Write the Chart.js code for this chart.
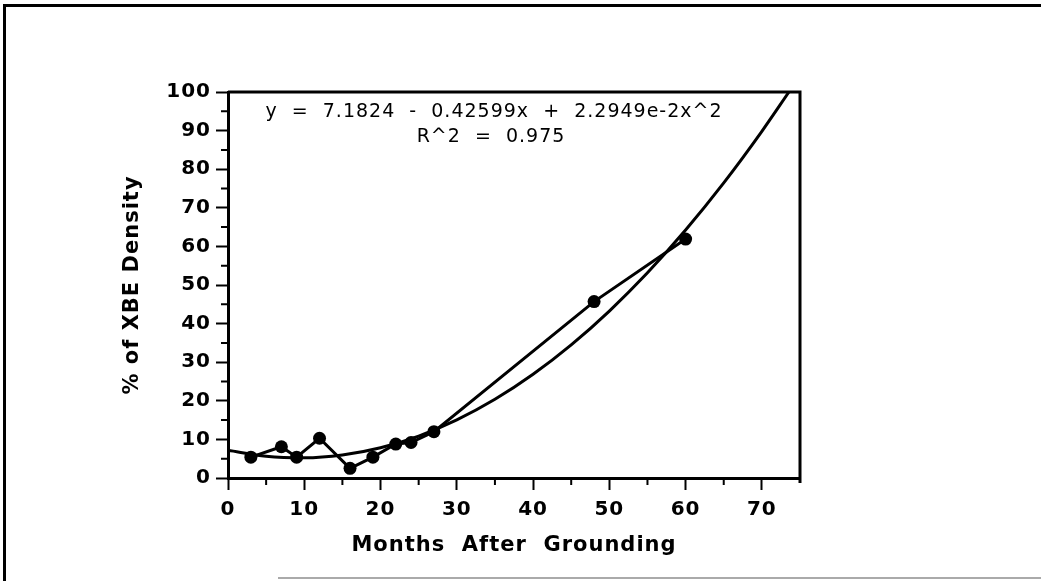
<!DOCTYPE html>
<html>
<head>
<meta charset="utf-8">
<script src="https://cdn.jsdelivr.net/npm/chart.js@4.4.1/dist/chart.umd.min.js"></script>
<style>
  html,body{margin:0;padding:0;background:#fff;overflow:hidden}
  #wrap{position:relative;width:1041px;height:581px}
</style>
</head>
<body>
<div id="wrap"><canvas id="xbeChart"></canvas></div>
<script>
// data
const months = [3, 7, 9, 12, 16, 19, 22, 24, 27, 48, 60];
const xbePct = [5.4, 8.1, 5.4, 10.3, 2.5, 5.4, 8.8, 9.2, 12.0, 45.7, 61.9];

// fitted quadratic, sampled
const fitMonths = [0, 5, 10, 15, 20, 25, 30, 35, 40, 45, 50, 55, 60, 65, 70, 73.55];
const fitPct = [7.18, 5.63, 5.22, 5.95, 7.84, 10.87, 15.05, 20.38, 26.86, 34.48, 43.25, 53.17, 64.24, 76.45, 89.81, 100];

const xTickVals = [0, 5, 10, 15, 20, 25, 30, 35, 40, 45, 50, 55, 60, 65, 70, 75];
const yTickVals = [0, 5, 10, 15, 20, 25, 30, 35, 40, 45, 50, 55, 60, 65, 70, 75, 80, 85, 90, 95, 100];
const eqLines = ["y  =  7.1824  -  0.42599x  +  2.2949e-2x^2", "R^2  =  0.975"];

const FONT = "'DejaVu Sans', sans-serif";
const isMajor = v => v % 10 === 0;

// frame, box, minor ticks, equation
const decor = {
  id: "decor",
  beforeDraw(chart){ chart.ctx.letterSpacing = "1px"; },
  afterDraw(chart){
    const {ctx, chartArea:a, scales:{x, y}} = chart;
    ctx.save();
    ctx.fillStyle = "#000";
    // outer frame
    ctx.fillRect(3, 4, 3, 577);
    ctx.fillRect(3, 4, 1038, 3);
    ctx.fillStyle = "#aaa";
    ctx.fillRect(278, 577, 763, 2);
    // plot box
    ctx.strokeStyle = "#000";
    ctx.lineWidth = 3;
    ctx.beginPath();
    ctx.moveTo(a.left, a.top); ctx.lineTo(a.right, a.top); ctx.lineTo(a.right, a.bottom + 5);
    ctx.stroke();
    // minor ticks
    ctx.lineWidth = 2;
    ctx.beginPath();
    xTickVals.filter(v => !isMajor(v) && v < 75).forEach(v => {
      const px = x.getPixelForValue(v);
      ctx.moveTo(px, a.bottom); ctx.lineTo(px, a.bottom + 7);
    });
    yTickVals.filter(v => !isMajor(v)).forEach(v => {
      const py = y.getPixelForValue(v);
      ctx.moveTo(a.left, py); ctx.lineTo(a.left - 7, py);
    });
    ctx.stroke();
    // equation
    ctx.letterSpacing = "1px";
    ctx.font = "19px " + FONT;
    ctx.textAlign = "center";
    ctx.textBaseline = "middle";
    ctx.fillStyle = "#000";
    ctx.fillText(eqLines[0], 494, 112);
    ctx.fillText(eqLines[1], 491, 137);
    ctx.restore();
  }
};

new Chart(document.getElementById("xbeChart"), {
  type: "line",
  data: {
    datasets: [
      {
        label: "fit",
        data: fitMonths.map((m, i) => ({x: m, y: fitPct[i]})),
        borderColor: "#000", borderWidth: 3,
        pointRadius: 0, cubicInterpolationMode: "monotone", fill: false
      },
      {
        label: "% of XBE Density",
        data: months.map((m, i) => ({x: m, y: xbePct[i]})),
        borderColor: "#000", borderWidth: 3, tension: 0,
        pointRadius: 6.5, pointBackgroundColor: "#000", pointBorderColor: "#000", pointBorderWidth: 0
      }
    ]
  },
  options: {
    responsive: true,
    maintainAspectRatio: false,
    animation: false,
    layout: { padding: { left: 116, top: 92, right: 241, bottom: 19 } },
    plugins: { legend: { display: false }, tooltip: { enabled: false } },
    scales: {
      x: {
        type: "linear", min: 0, max: 75,
        afterBuildTicks: s => { s.ticks = xTickVals.map(v => ({value: v})); },
        afterFit: s => { s.height = 84; },
        border: { color: "#000", width: 3 },
        grid: {
          drawOnChartArea: false, tickLength: 12, tickWidth: 2,
          tickColor: c => (isMajor(c.tick.value) ? "#000" : "transparent")
        },
        ticks: {
          autoSkip: false, maxRotation: 0, padding: 8, color: "#000",
          font: { family: FONT, size: 20, weight: "bold" },
          callback: v => (isMajor(v) ? String(v) : "")
        },
        title: {
          display: true, text: "Months  After  Grounding", color: "#000",
          font: { family: FONT, size: 21, weight: "bold", lineHeight: 1.2 },
          padding: { top: 4, bottom: 4 }
        }
      },
      y: {
        type: "linear", min: 0, max: 100,
        afterBuildTicks: s => { s.ticks = yTickVals.map(v => ({value: v})); },
        afterFit: s => { s.width = 112; },
        border: { color: "#000", width: 3 },
        grid: {
          drawOnChartArea: false, tickLength: 12, tickWidth: 2,
          tickColor: c => (isMajor(c.tick.value) ? "#000" : "transparent")
        },
        ticks: {
          autoSkip: false, padding: 5, color: "#000",
          font: { family: FONT, size: 20, weight: "bold" },
          callback: v => (isMajor(v) ? String(v) : "")
        },
        title: {
          display: true, text: "% of XBE Density", color: "#000",
          font: { family: FONT, size: 21, weight: "bold", lineHeight: 1.2 },
          padding: { top: 4, bottom: 4 }
        }
      }
    }
  },
  plugins: [decor]
});
</script>
</body>
</html>
